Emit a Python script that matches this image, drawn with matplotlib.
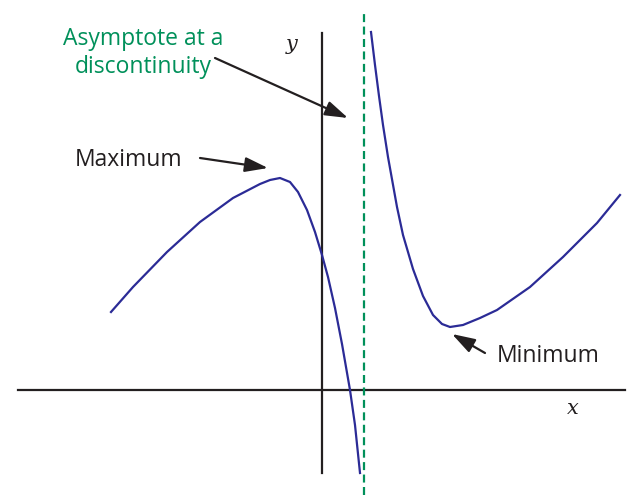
import numpy as np
import matplotlib.pyplot as plt

# curve (origin at the axes crossing, pixel-ish units)
left_x = [-211, -189, -155, -122, -89, -62, -52, -42, -32, -24, -15, -7, 0, 6, 13, 20, 28, 33, 38]
left_y = [78, 103, 138, 168, 192, 206, 210, 212, 208, 198, 180, 158, 135, 113, 82, 46, 0, -35, -83]
right_x = [49, 53, 57, 61, 66, 75, 81, 91, 101, 111, 120, 128, 141, 158, 175, 208, 241, 275, 298]
right_y = [358, 325, 294, 265, 233, 183, 155, 121, 94, 75, 66, 63, 65, 72, 80, 103, 133, 167, 195]
asymptote_x = 42

plt.rcParams["font.family"] = ["Open Sans", "DejaVu Sans"]

fig = plt.figure(figsize=(6.27, 5), dpi=100)
ax = fig.add_axes([0, 0, 1, 1])
ax.set_xlim(-322, 305)
ax.set_ylim(-110, 390)
ax.axis("off")

# axes
ax.plot([-304, 303], [0, 0], color="#231f20", lw=1.6)
ax.plot([0, 0], [-83, 357], color="#231f20", lw=1.6)
ax.text(-30, 345, "y", fontsize=15, family="DejaVu Serif", style="italic", ha="center", va="center", color="#231f20")
ax.text(251, -18, "x", fontsize=15, family="DejaVu Serif", style="italic", ha="center", va="center", color="#231f20")

# asymptote
ax.plot([asymptote_x, asymptote_x], [-105, 380], color="#00905a", lw=1.6, ls=(0, (3.6, 2)))

# function
ax.plot(left_x, left_y, color="#2b2b96", lw=1.6, solid_joinstyle="round")
ax.plot(right_x, right_y, color="#2b2b96", lw=1.6, solid_joinstyle="round")

arrow = dict(arrowstyle="-|>,head_length=1.4,head_width=0.45", color="#231f20", lw=1.6, shrinkA=0, shrinkB=0)
ax.text(-179, 337, "Asymptote at a\ndiscontinuity", color="#00905a", fontsize=16.5, ha="center", va="center", linespacing=1.25)
ax.annotate("", xy=(26, 272), xytext=(-107, 332), arrowprops=arrow)
ax.text(-193, 230, "Maximum", color="#231f20", fontsize=16.5, ha="center", va="center")
ax.annotate("", xy=(-54, 222), xytext=(-122, 232), arrowprops=arrow)
ax.text(226, 34, "Minimum", color="#231f20", fontsize=16.5, ha="center", va="center")
ax.annotate("", xy=(130, 56), xytext=(163, 37), arrowprops=arrow)

fig.savefig("out.png", dpi=100)
